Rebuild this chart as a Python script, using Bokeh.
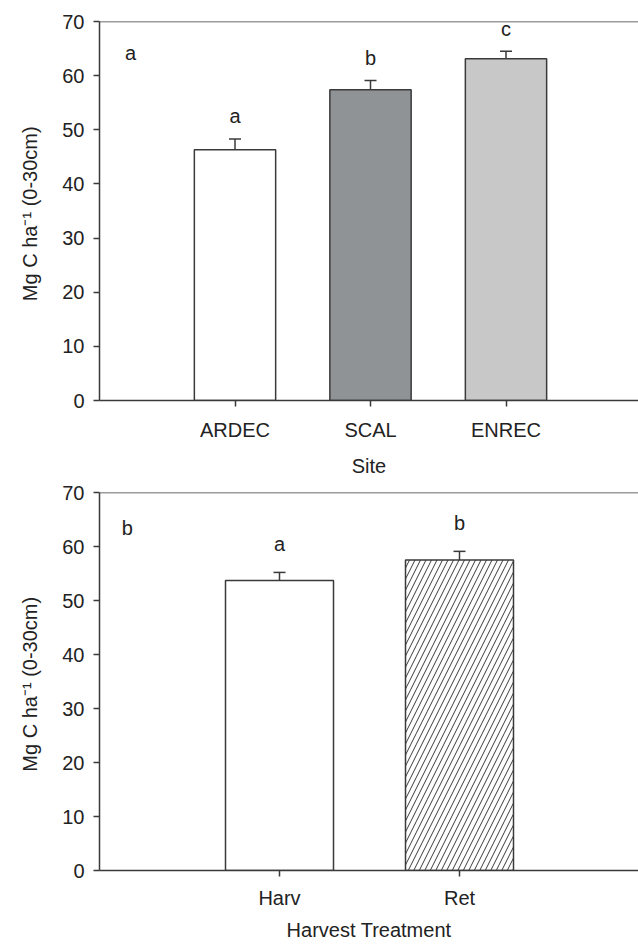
from bokeh.plotting import figure
from bokeh.models import Range1d, FixedTicker, Span, Whisker, TeeHead, ColumnDataSource
from bokeh.layouts import column
from bokeh.embed import file_html
from bokeh.resources import INLINE
from bokeh.core.properties import value

# ---- data ----
sites = ["ARDEC", "SCAL", "ENREC"]
site_means = [46.3, 57.4, 63.1]
site_se = [2.0, 1.7, 1.4]
site_letters = ["a", "b", "c"]
site_colors = ["#ffffff", "#909396", "#c8c8c8"]

treatments = ["Harv", "Ret"]
trt_means = [53.7, 57.5]
trt_se = [1.5, 1.6]
trt_letters = ["a", "b"]

y_ticks = [0, 10, 20, 30, 40, 50, 60, 70]

FONT = "Liberation Sans"
TXT = "#222222"
LINE = "#3a3a3a"
FS = "20px"


def base_fig(height, x_end, border_top, border_bottom, cats, xlabel, tick_standoff, xlab_standoff):
    p = figure(width=638, height=height, output_backend="svg", toolbar_location=None,
               x_range=Range1d(0, x_end), y_range=Range1d(0, 70),
               min_border_left=99, min_border_right=0, min_border_top=border_top,
               min_border_bottom=border_bottom)
    p.outline_line_color = None
    p.xgrid.visible = False
    p.ygrid.visible = False
    p.background_fill_color = "white"
    p.border_fill_color = "white"
    p.add_layout(Span(location=70, dimension="width", line_color=LINE, line_width=1.5))
    for ax in (p.xaxis[0], p.yaxis[0]):
        ax.axis_line_color = LINE
        ax.axis_line_width = 1.5
        ax.major_tick_line_color = LINE
        ax.major_tick_line_width = 1.5
        ax.major_tick_in = 0
        ax.major_tick_out = 6
        ax.minor_tick_line_color = None
        ax.major_label_text_font = FONT
        ax.major_label_text_font_size = FS
        ax.major_label_text_color = TXT
        ax.axis_label_text_font = FONT
        ax.axis_label_text_font_size = FS
        ax.axis_label_text_font_style = "normal"
        ax.axis_label_text_color = TXT
    p.yaxis.ticker = FixedTicker(ticks=y_ticks)
    p.yaxis.major_label_standoff = 9
    p.yaxis.axis_label = "Mg C ha\u207b\u00b9  (0-30cm)"
    p.yaxis.axis_label_standoff = 18
    positions = [i + 1 for i in range(len(cats))]
    p.xaxis.ticker = FixedTicker(ticks=positions)
    p.xaxis.major_label_overrides = {pos: c for pos, c in zip(positions, cats)}
    p.xaxis.major_label_standoff = tick_standoff
    p.xaxis.axis_label = xlabel
    p.xaxis.axis_label_standoff = xlab_standoff
    return p, positions


# ---- panel a ----
p1, pos1 = base_fig(480, 539 / 135.5, 21, 80, sites, "Site", 12, 11)
src1 = ColumnDataSource(dict(x=pos1, top=site_means, upper=[m + e for m, e in zip(site_means, site_se)],
                             color=site_colors, letter=site_letters,
                             ly=[m + e + 4.2 for m, e in zip(site_means, site_se)]))
p1.vbar(x="x", top="top", bottom=0, width=0.6, source=src1, fill_color="color",
        line_color=LINE, line_width=1.5)
p1.add_layout(Whisker(source=src1, base="x", upper="upper", lower="top", dimension="height",
                      line_color=LINE, line_width=1.5,
                      upper_head=TeeHead(size=12, line_color=LINE, line_width=1.5), lower_head=None))
p1.text(x="x", y="ly", text="letter", source=src1, text_align="center", text_baseline="middle",
        text_font=value(FONT), text_font_size=FS, text_color=TXT)
p1.text(x=[0.23], y=[64.1], text=["a"], text_align="center", text_baseline="middle",
        text_font=value(FONT), text_font_size=FS, text_color=TXT)

# ---- panel b ----
p2, pos2 = base_fig(464, 539 / 180.0, 12, 74, treatments, "Harvest Treatment", 10, 7)
src2 = ColumnDataSource(dict(x=pos2, top=trt_means, upper=[m + e for m, e in zip(trt_means, trt_se)],
                             hatch=[" ", "/"], letter=trt_letters,
                             ly=[m + e + 5.3 for m, e in zip(trt_means, trt_se)]))
p2.vbar(x="x", top="top", bottom=0, width=0.6, source=src2, fill_color="white",
        line_color=LINE, line_width=1.5, hatch_pattern="hatch", hatch_color=LINE,
        hatch_scale=11, hatch_weight=1)
p2.add_layout(Whisker(source=src2, base="x", upper="upper", lower="top", dimension="height",
                      line_color=LINE, line_width=1.5,
                      upper_head=TeeHead(size=12, line_color=LINE, line_width=1.5), lower_head=None))
p2.text(x="x", y="ly", text="letter", source=src2, text_align="center", text_baseline="middle",
        text_font=value(FONT), text_font_size=FS, text_color=TXT)
p2.text(x=[0.155], y=[63.5], text=["b"], text_align="center", text_baseline="middle",
        text_font=value(FONT), text_font_size=FS, text_color=TXT)

layout = column(p1, p2, spacing=0)
open("out.html", "w").write(file_html(layout, INLINE))
